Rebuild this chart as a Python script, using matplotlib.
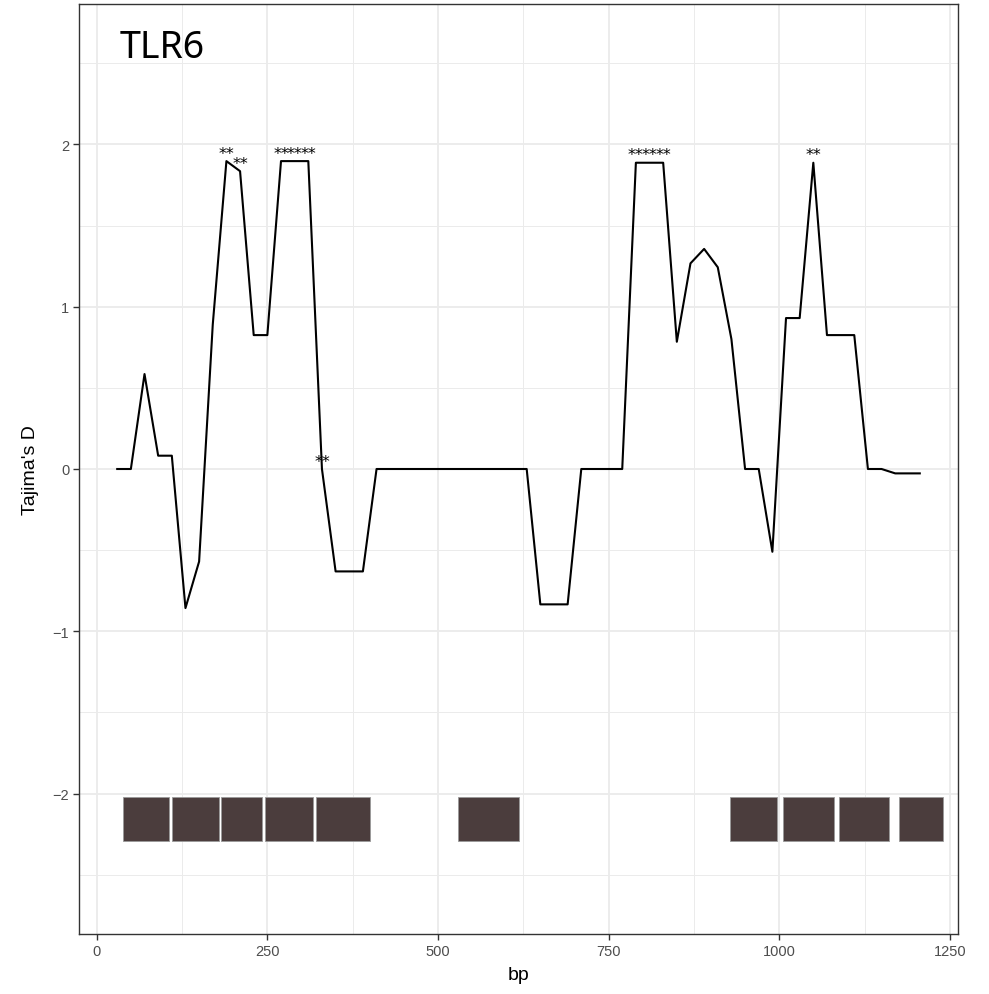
import matplotlib
matplotlib.use("Agg")
import matplotlib.pyplot as plt
from matplotlib.patches import Rectangle
from matplotlib.ticker import MultipleLocator

# Tajima's D par fenêtre glissante
bp = [30, 50, 70, 90, 110, 130, 150, 170, 190, 210, 230, 250, 270, 290, 310,
      330, 350, 370, 390, 410, 430, 450, 470, 490, 510, 530, 550, 570, 590,
      610, 630, 650, 670, 690, 710, 730, 750, 770, 790, 810, 830, 850, 870,
      890, 910, 930, 950, 970, 990, 1010, 1030, 1050, 1070, 1090, 1110, 1130,
      1150, 1170, 1190, 1206]
tajima_d = [0, 0, 0.585, 0.082, 0.082, -0.857, -0.57, 0.89, 1.897, 1.835,
            0.825, 0.825, 1.897, 1.897, 1.897, 0, -0.631, -0.631, -0.631, 0,
            0, 0, 0, 0, 0, 0, 0, 0, 0, 0, 0, -0.834, -0.834, -0.834, 0, 0, 0,
            0, 1.887, 1.887, 1.887, 0.784, 1.267, 1.356, 1.243, 0.80, 0, 0,
            -0.51, 0.93, 0.93, 1.887, 0.825, 0.825, 0.825, 0, 0, -0.027,
            -0.027, -0.027]

# fenêtres significatives
sig_bp = [190, 210, 270, 290, 310, 330, 790, 810, 830, 1050]
sig_label = "**"

# exons
exon_start = [38, 111, 182, 247, 322, 529, 928, 1006, 1087, 1175]
exon_end = [106, 179, 242, 317, 400, 619, 997, 1080, 1161, 1240]
exon_bottom = -2.29
exon_top = -2.02

grid_col = "#EBEBEB"
txt_col = "#4D4D4D"

fig = plt.figure(figsize=(9.89, 9.95), dpi=100)
ax = fig.add_axes([79 / 989, 1 - 935 / 995, (958 - 79) / 989, (935 - 5) / 995])

for s, e in zip(exon_start, exon_end):
    ax.add_patch(Rectangle((s, exon_bottom), e - s, exon_top - exon_bottom,
                           facecolor="#4B3D3D", edgecolor="#9A9A9A",
                           linewidth=0.6, zorder=3))

ax.plot(bp, tajima_d, color="black", linewidth=1.5, zorder=4)

d_lookup = dict(zip(bp, tajima_d))
for x in sig_bp:
    ax.text(x, d_lookup[x] + 0.02, sig_label, ha="center", va="baseline",
            fontsize=11.5, family="DejaVu Sans", zorder=5)

ax.text(34, 2.6, "TLR6", ha="left", va="center", fontsize=27,
        family="Noto Sans")

ax.set_xlim(-26, 1262)
ax.set_ylim(-2.865, 2.865)
ax.xaxis.set_major_locator(MultipleLocator(250))
ax.xaxis.set_minor_locator(MultipleLocator(125))
ax.yaxis.set_major_locator(MultipleLocator(1))
ax.yaxis.set_minor_locator(MultipleLocator(0.5))
ax.grid(which="major", color=grid_col, linewidth=1.3)
ax.grid(which="minor", color=grid_col, linewidth=0.7)
ax.set_axisbelow(True)

for sp in ax.spines.values():
    sp.set_color("#333333")
    sp.set_linewidth(1.0)

ax.tick_params(which="major", length=4, width=1, color="#333333",
               labelcolor=txt_col, labelsize=10.5, pad=3)
ax.tick_params(which="minor", length=0)
for lab in ax.get_xticklabels() + ax.get_yticklabels():
    lab.set_family("Liberation Sans")

ax.set_xlabel("bp", fontsize=14, family="Liberation Sans", labelpad=6)
ax.set_ylabel("Tajima's D", fontsize=14, family="Liberation Sans", labelpad=10)

fig.savefig("out.png", dpi=100)
